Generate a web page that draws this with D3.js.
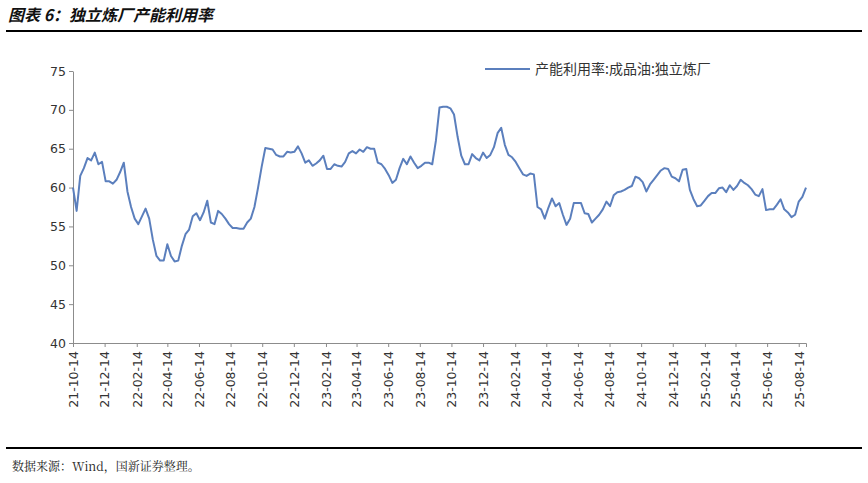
<!DOCTYPE html>
<html>
<head>
<meta charset="utf-8">
<script src="https://cdn.jsdelivr.net/npm/d3@7"></script>
<style>
  body { margin: 0; background: #fff; }
  .axis path, .axis line { stroke: #8c8c8c; }
  .axis text { font-family: "DejaVu Sans", sans-serif; font-size: 12.5px; fill: #333; }
</style>
</head>
<body>
<div id="chart"></div>
<script>

	// Weekly series, first week 2021-10-14
	var startDate = new Date(2021, 9, 14);
	var utilRate = [
		60, 57, 61.5, 62.5, 63.8, 63.5, 64.5, 63, 63.3, 60.8,
		60.8, 60.5, 61, 62, 63.2, 59.5, 57.5, 56, 55.3, 56.3,
		57.3, 56, 53.3, 51.2, 50.6, 50.6, 52.7, 51.2, 50.5, 50.6,
		52.5, 54, 54.6, 56.3, 56.7, 55.8, 56.8, 58.3, 55.5, 55.3,
		57, 56.6, 56, 55.3, 54.8, 54.8, 54.7, 54.7, 55.5, 56,
		57.5, 60, 62.7, 65.1, 65, 64.9, 64.2, 64, 64, 64.6,
		64.5, 64.6, 65.3, 64.4, 63.2, 63.5, 62.8, 63.1, 63.5, 64.1,
		62.4, 62.4, 63, 62.8, 62.7, 63.3, 64.4, 64.7, 64.4, 64.9,
		64.6, 65.2, 65, 65, 63.2, 63, 62.4, 61.6, 60.6, 61,
		62.5, 63.7, 63, 64, 63.2, 62.5, 62.8, 63.2, 63.2, 63,
		66, 70.3, 70.4, 70.4, 70.2, 69.4, 66.5, 64.1, 63, 63,
		64.3, 63.8, 63.5, 64.5, 63.8, 64.2, 65.2, 67, 67.7, 65.5,
		64.2, 63.9, 63.3, 62.5, 61.7, 61.5, 61.8, 61.7, 57.5, 57.2,
		56, 57.4, 58.6, 57.6, 58, 56.5, 55.2, 56, 58, 58,
		58, 56.7, 56.6, 55.5, 56, 56.5, 57.2, 58.2, 57.6, 59,
		59.4, 59.5, 59.7, 60, 60.2, 61.4, 61.2, 60.7, 59.5, 60.4,
		61, 61.6, 62.2, 62.5, 62.4, 61.4, 61.2, 60.8, 62.3, 62.4,
		59.7, 58.5, 57.6, 57.7, 58.3, 58.9, 59.3, 59.3, 59.9, 60,
		59.4, 60.3, 59.7, 60.2, 61, 60.6, 60.3, 59.8, 59.1, 58.9,
		59.8, 57.1, 57.2, 57.2, 57.8, 58.5, 57.2, 56.8, 56.2, 56.5,
		58.2, 58.8, 60
	];
	var yTicks = [40, 45, 50, 55, 60, 65, 70, 75];
	var seriesName = "产能利用率:成品油:独立炼厂";
	var titleText = "图表 6：独立炼厂产能利用率";
	var sourceText = "数据来源：Wind，国新证券整理。";

	var w = 868;
	var h = 483;

	var dataset = utilRate.map(function(v, i) {
		return { date: d3.timeWeek.offset(startDate, i), value: v };
	});

	var tickDates = d3.range(0, 24).map(function(i) {
		return d3.timeMonth.offset(startDate, i * 2);
	});

	var svg = d3.select("#chart").append("svg")
		.attr("width", w)
		.attr("height", h);

	// Title and rules
	svg.append("text")
		.attr("x", 8).attr("y", 21)
		.attr("font-family", "'Noto Sans CJK SC', sans-serif")
		.attr("font-size", 16).attr("font-weight", "bold").attr("font-style", "italic")
		.attr("fill", "#111")
		.text(titleText);

	svg.append("line")
		.attr("x1", 6).attr("x2", 862).attr("y1", 31).attr("y2", 31)
		.attr("stroke", "#000").attr("stroke-width", 2);

	svg.append("line")
		.attr("x1", 6).attr("x2", 862).attr("y1", 448).attr("y2", 448)
		.attr("stroke", "#000").attr("stroke-width", 2);

	svg.append("text")
		.attr("x", 12).attr("y", 471)
		.attr("font-family", "'Noto Serif CJK SC', 'Noto Sans CJK SC', serif")
		.attr("font-size", 12).attr("fill", "#222")
		.text(sourceText);

	// Scales
	var xScale = d3.scaleTime()
		.domain([startDate, dataset[dataset.length - 1].date])
		.range([73, 806]);

	var yScale = d3.scaleLinear()
		.domain([40, 75])
		.range([343, 71]);

	var xAxis = d3.axisBottom(xScale)
		.tickValues(tickDates)
		.tickSizeOuter(0)
		.tickSize(4)
		.tickFormat(d3.timeFormat("%y-%m-%d"));

	var yAxis = d3.axisLeft(yScale)
		.tickValues(yTicks)
		.tickSize(4)
		.tickSizeOuter(0);

	svg.append("g")
		.attr("class", "axis")
		.attr("transform", "translate(0,343)")
		.call(xAxis)
		.selectAll("text")
		.attr("transform", "rotate(-90)")
		.attr("text-anchor", "end")
		.attr("x", -8)
		.attr("y", 0)
		.attr("dy", "0.35em");

	svg.append("g")
		.attr("class", "axis")
		.attr("transform", "translate(73,0)")
		.call(yAxis)
		.selectAll("text")
		.attr("font-size", 14);

	// Line
	var line = d3.line()
		.x(function(d) { return xScale(d.date); })
		.y(function(d) { return yScale(d.value); });

	svg.append("path")
		.datum(dataset)
		.attr("fill", "none")
		.attr("stroke", "#5b7fbd")
		.attr("stroke-width", 2)
		.attr("stroke-linejoin", "round")
		.attr("d", line);

	// Legend
	svg.append("line")
		.attr("x1", 485).attr("x2", 530).attr("y1", 69).attr("y2", 69)
		.attr("stroke", "#5b7fbd").attr("stroke-width", 2);

	svg.append("text")
		.attr("x", 535).attr("y", 74)
		.attr("font-family", "'Noto Sans CJK SC', sans-serif")
		.attr("font-size", 14).attr("fill", "#333")
		.text(seriesName);

</script>
</body>
</html>
